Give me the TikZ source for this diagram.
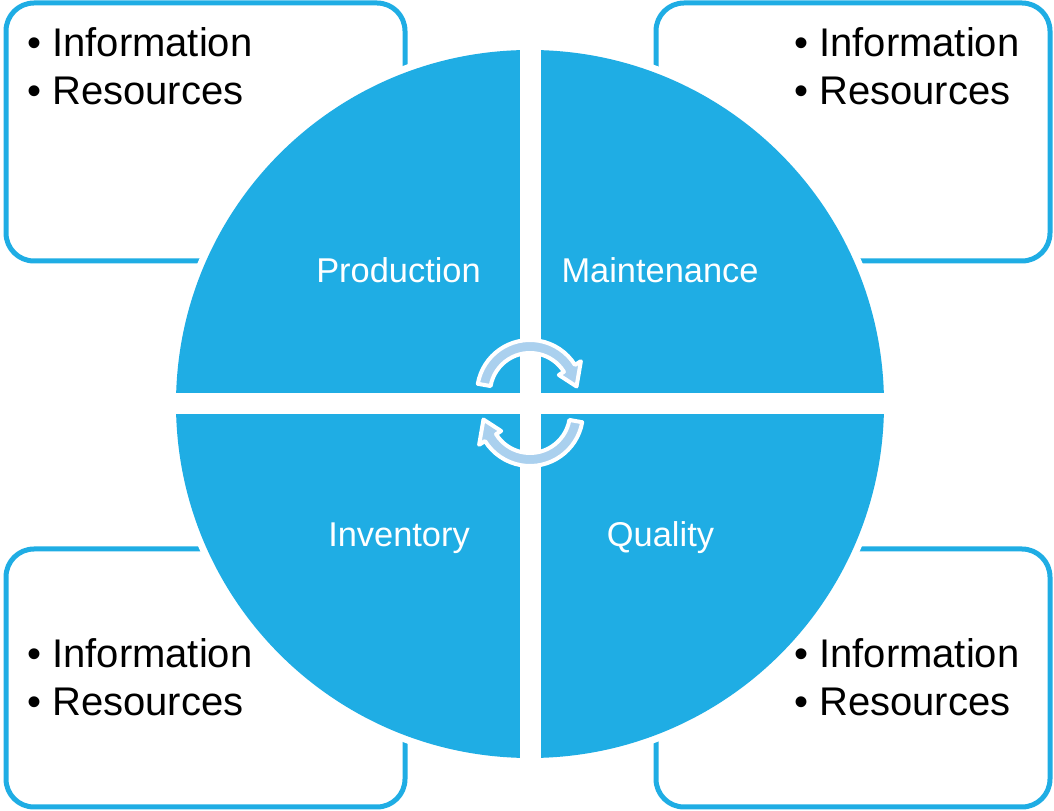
\documentclass[tikz,border=0pt]{standalone}
\usepackage{fontspec}
\setmainfont{Liberation Sans}
\definecolor{cycleblue}{RGB}{31,173,228}
\definecolor{arrowblue}{RGB}{170,208,238}
\begin{document}
\begin{tikzpicture}
    [x=0.75pt, y=0.75pt,
    infobox/.style={draw=cycleblue, line width=3.75pt, rounded corners=21pt},
    info/.style={anchor=base west, inner sep=0pt, font=\fontsize{30}{36}\selectfont},
    quadlabel/.style={anchor=base, inner sep=0pt, text=white, font=\fontsize{25.8}{30}\selectfont},
    cyclearrow/.style={fill=arrowblue, draw=white, line width=3pt, line join=round}]
    % \draw[help lines] (0,0) grid (1054,811);
    \useasboundingbox (0,0) rectangle (1054,811);
    \coordinate (hub) at (530,407);
    % corner boxes
    \draw[infobox] (6,808) rectangle (405,550);
    \draw[infobox] (656,808) rectangle (1050,550);
    \draw[infobox] (6,262) rectangle (405,4);
    \draw[infobox] (656,262) rectangle (1050,4);
    %
    \node[info] (PI) at (27,754) {• Information};
    \node[info] (PR) at (27,706) {• Resources};
    \node[info] (MI) at (794,754) {• Information};
    \node[info] (MR) at (794,706) {• Resources};
    \node[info] (II) at (27,143) {• Information};
    \node[info] (IR) at (27,95) {• Resources};
    \node[info] (QI) at (794,143) {• Information};
    \node[info] (QR) at (794,95) {• Resources};
    % circle in four quarters
    \fill[white] (hub) circle[radius=361];
    \fill[cycleblue] (hub) circle[radius=354];
    \fill[white] (519.5,40) rectangle (540.5,775);
    \fill[white] (170,396.5) rectangle (890,417.5);
    %
    \node[quadlabel] (prod) at (398.5,528) {Production};
    \node[quadlabel] (maint) at (660,528) {Maintenance};
    \node[quadlabel] (inv) at (399,264) {Inventory};
    \node[quadlabel] (qual) at (660.5,264) {Quality};
    % cycle arrows
    \begin{scope}[shift={(530,418)}]
        \filldraw[cyclearrow] (170:53) arc[start angle=170, end angle=32, radius=53]
            -- (32:60) -- (8:47) -- (32:34) -- (32:40)
            arc[start angle=32, end angle=170, radius=40] -- cycle;
    \end{scope}
    \begin{scope}[shift={(530,398)}, rotate=180]
        \filldraw[cyclearrow] (170:53) arc[start angle=170, end angle=32, radius=53]
            -- (32:60) -- (8:47) -- (32:34) -- (32:40)
            arc[start angle=32, end angle=170, radius=40] -- cycle;
    \end{scope}
\end{tikzpicture}
\end{document}
